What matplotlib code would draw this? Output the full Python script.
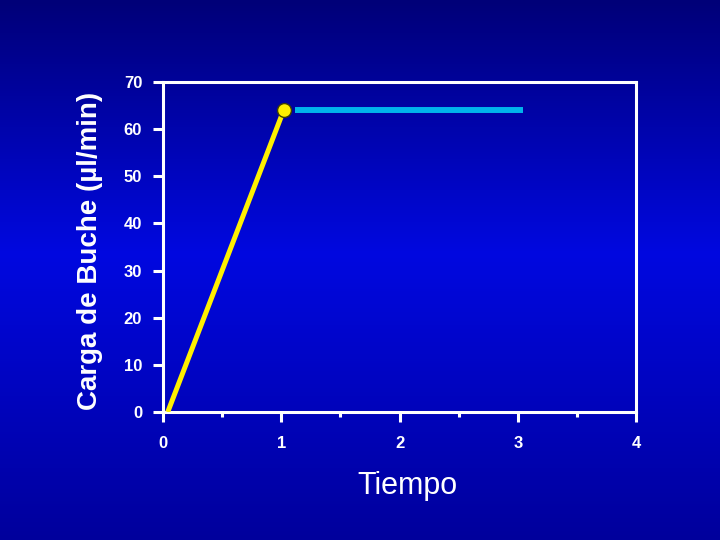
import numpy as np
import matplotlib
matplotlib.use("Agg")
import matplotlib.pyplot as plt
from matplotlib.colors import LinearSegmentedColormap

# Data
rise_x = [0.04, 1.02]
rise_y = [0, 64]
plateau_x = [1.12, 3.04]
plateau_y = [64, 64]
y_ticks = [0, 10, 20, 30, 40, 50, 60, 70]
x_ticks = [0, 1, 2, 3, 4]

plt.rcParams['font.family'] = ['Liberation Sans', 'DejaVu Sans']

fig = plt.figure(figsize=(7.2, 5.4), dpi=100)

# background gradient (dark top, bright middle, darker bottom)
bg = fig.add_axes([0, 0, 1, 1], zorder=-10)
cmap = LinearSegmentedColormap.from_list(
    "bg", [(0.0, "#000078"), (0.47, "#0008E0"), (1.0, "#00009C")])
grad = np.linspace(0, 1, 256).reshape(-1, 1)
bg.imshow(grad, aspect="auto", cmap=cmap, extent=[0, 1, 0, 1], origin="upper")
bg.axis("off")

ax = fig.add_axes([0.2264, 0.237, 0.657, 0.611])
ax.patch.set_alpha(0)
ax.plot(rise_x, rise_y, color="#FFF000", lw=3.6, solid_capstyle="butt", zorder=3)
ax.plot([rise_x[-1]], [rise_y[-1]], marker="o", ms=10, mfc="#FFF000", mec="#404000", mew=1, zorder=4)
ax.plot(plateau_x, plateau_y, color="#00B4EC", lw=4.3, solid_capstyle="butt", zorder=3)

ax.set_xlim(0, 4)
ax.set_ylim(0, 70)
ax.set_xticks(x_ticks)
ax.set_xticks([0.5, 1.5, 2.5, 3.5], minor=True)
ax.set_yticks(y_ticks)
for s in ax.spines.values():
    s.set_color("white")
    s.set_linewidth(2.2)
ax.tick_params(axis="both", which="major", colors="white", width=2.2, length=7, labelsize=12)
ax.tick_params(axis="y", which="major", pad=8)
ax.tick_params(axis="x", which="major", pad=10)
ax.tick_params(axis="x", which="minor", colors="white", width=2.2, length=3.5)
for lab in ax.get_xticklabels() + ax.get_yticklabels():
    lab.set_fontweight("bold")
    lab.set_color("white")

ax.set_xlabel("Tiempo", color="white", fontsize=22)
ax.xaxis.set_label_coords(0.517, -0.179)
ax.set_ylabel("Carga de Buche (µl/min)", color="white", fontsize=20, fontweight="bold")
ax.yaxis.set_label_coords(-0.127, 0.488)

fig.savefig("out.png", dpi=100)
